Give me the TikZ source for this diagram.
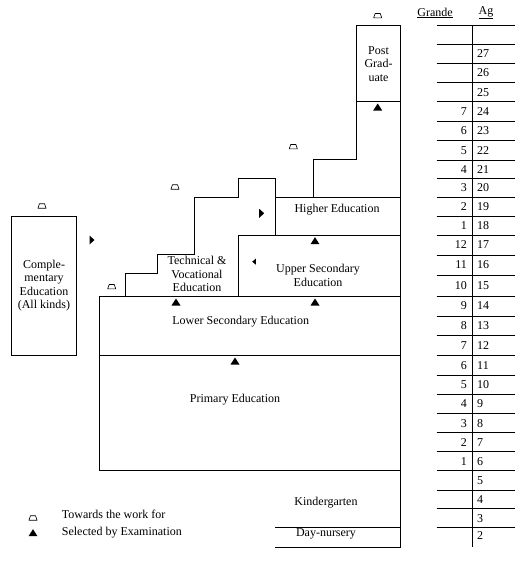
\documentclass[tikz,border=0pt]{standalone}
\usepackage{fontspec}
\setmainfont{Liberation Serif}
\begin{document}
\begin{tikzpicture}[x=1pt,y=-1pt,
  ln/.style={line width=0.9pt,black},
  lbl/.style={inner sep=0pt,align=center,font=\fontsize{12}{13.5}\selectfont},
  num/.style={inner sep=0pt,font=\fontsize{12}{13}\selectfont},
  worksym/.pic={\draw[line width=0.65pt,line join=round] (-4,2.2)--(-2.6,-2.2)--(2.6,-2.2)--(4,2.2)--cycle;},
  examsym/.pic={\fill (-4.5,3.5)--(4.5,3.5)--(0,-3.5)--cycle;},
  rightsym/.pic={\fill (-2.5,-4.5)--(2.5,0)--(-2.5,4.5)--cycle;},
  leftsym/.pic={\fill (1.8,-3)--(-1.8,0)--(1.8,3)--cycle;}
]
\useasboundingbox (0,0) rectangle (515,565);

% corner coordinates
\coordinate (pgTL) at (356.7,25);
\coordinate (pgTR) at (400.7,25);
\coordinate (pgML) at (356.7,101.7);
\coordinate (pgMR) at (400.7,101.7);
\coordinate (pgBL) at (356.7,159.3);
\coordinate (bot) at (400.7,547);

% outer right line and post graduate box
\draw[ln] (pgBL) -- (pgTL) -- (pgTR) -- (bot);
\draw[ln] (pgML) -- (pgMR);
% step to higher education
\draw[ln] (pgBL) -- (313.3,159.3) -- (313.3,197.3);
% higher education box
\draw[ln] (275,197.3) -- (400.7,197.3);
\draw[ln] (238.3,235) -- (400.7,235);
% staircase of technical & vocational
\draw[ln] (275,235) -- (275,178.3) -- (238.3,178.3) -- (238.3,197.3)
  -- (194.3,197.3) -- (194.3,254.3) -- (157.7,254.3) -- (157.7,273.3)
  -- (125,273.3) -- (125,296);
\draw[ln] (238.3,235) -- (238.3,296);
% lower secondary and primary
\draw[ln] (99,470.3) -- (99,296) -- (400.7,296);
\draw[ln] (99,355.3) -- (400.7,355.3);
\draw[ln] (99,470.3) -- (400.7,470.3);
% day nursery
\draw[ln] (275,527.7) -- (400.7,527.7);
\draw[ln] (275,547) -- (400.7,547);
% complementary
\draw[ln] (11.3,216) rectangle (76.7,355);

% labels
\node[lbl] (pg) at (378.5,64) {Post\\Grad-\\uate};
\node[lbl] (he) at (337,210) {Higher Education};
\node[lbl] (tv) at (197,274) {Technical \&\\Vocational\\Education};
\node[lbl] (us) at (318,275.5) {Upper Secondary\\Education};
\node[lbl] (ce) at (44,285.5) {Comple-\\mentary\\Education\\(All kinds)};
\node[lbl] (ls) at (240.7,321.7) {Lower Secondary Education};
\node[lbl] (pe) at (235,400) {Primary Education};
\node[lbl] (kg) at (326,503) {Kindergarten};
\node[lbl] (dn) at (326,534) {Day-nursery};

% symbols
\foreach \p in {(377.7,15.7),(293.3,146.7),(175,187),(111.7,286.7),(42,206),(33,518)}
  \pic at \p {worksym};
\foreach \p in {(377.7,107),(315,240.7),(176,302),(315,302),(235,361),(33,532.7)}
  \pic at \p {examsym};
\pic at (92,240) {rightsym};
\pic at (261.7,213.3) {rightsym};
\pic at (254,261.7) {leftsym};

% legend
\node[lbl,anchor=west] (lg1) at (61.7,514) {Towards the work for};
\node[lbl,anchor=west] (lg2) at (61.7,533) {Selected by Examination};

% table
\node[num] (hg) at (435,13) {\underline{Grande}};
\node[num,anchor=west] (ha) at (478.5,13) {\underline{Ag}};
\draw[ln] (472.7,25) -- (472.7,547);
\foreach \y in {25,44.3,63.3,82.7,101.7,121.3,140.7,160,178.5,197.3,216.5,235,255,275,296,316,335.3,355.5,375.5,394.5,413.5,432.7,451.7,470.7,490,508.5,527.7}
  \draw[ln] (436.5,\y) -- (515,\y);
\foreach \y/\a in {53.8/27,73/26,92.2/25,480.35/5,499.25/4,518.1/3,536/2}
  \node[num,anchor=west] (a\a) at (477,\y) {\a};
\foreach \y/\g/\a in {111.5/7/24,131/6/23,150.35/5/22,169.25/4/21,187.9/3/20,206.9/2/19,225.75/1/18,245/12/17,265/11/16,285.5/10/15,306/9/14,325.65/8/13,345.4/7/12,365.5/6/11,385/5/10,404/4/9,423.1/3/8,442.2/2/7,461.2/1/6}{
  \node[num,anchor=east] (g\a) at (467,\y) {\g};
  \node[num,anchor=west] (a\a) at (477,\y) {\a};
}
\end{tikzpicture}
\end{document}
